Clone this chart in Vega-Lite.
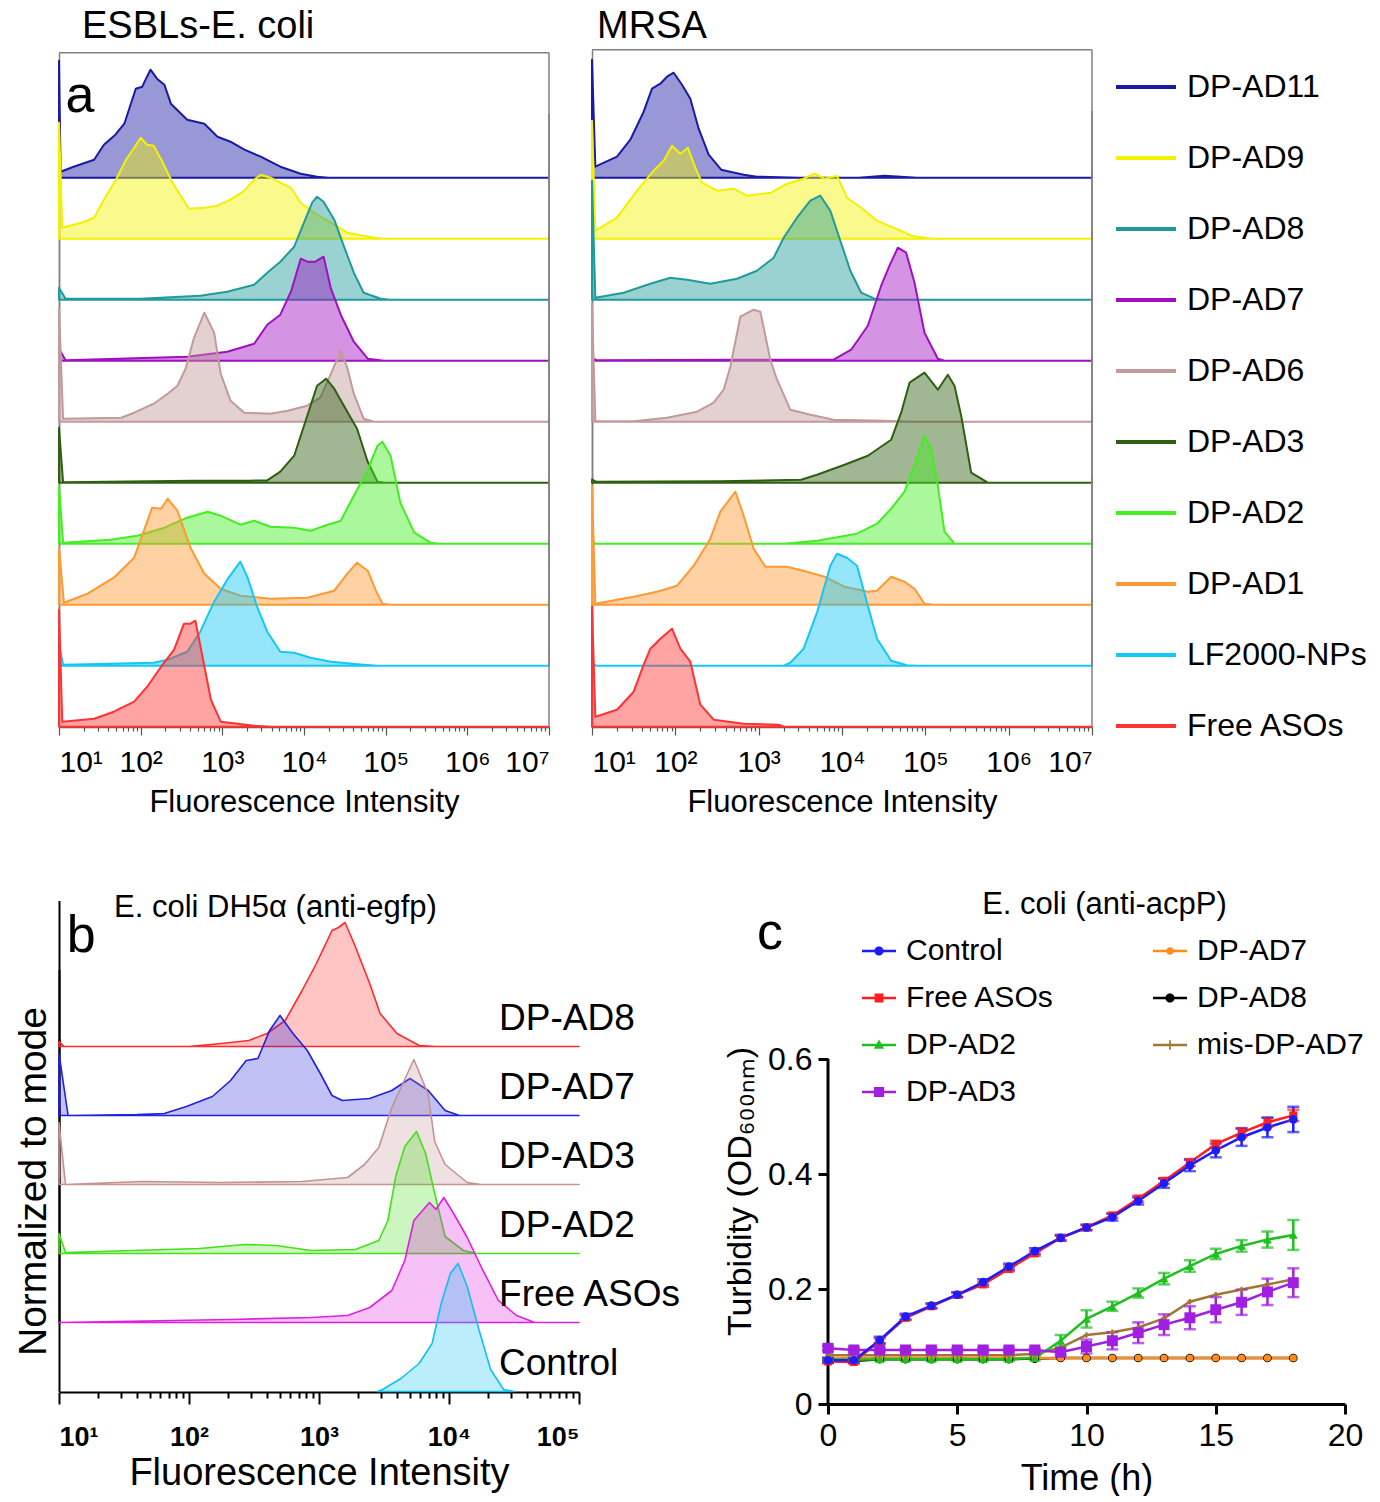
{
"$schema":"https://vega.github.io/schema/vega-lite/v6.json",
"background":"white",
"padding":{"left":14,"top":7,"right":0,"bottom":0},
"title":{"text":"Normalized to mode","orient":"left","anchor":"start","fontSize":39,"fontWeight":"normal","offset":4,"dx":140,"color":"black","font":"Liberation Sans"},
"config":{"font":"Liberation Sans","view":{"stroke":null},"axis":{"grid":false,"labelColor":"black","titleColor":"black","titleFontWeight":"normal","labelFont":"Liberation Sans","titleFont":"Liberation Sans"},"title":{"font":"Liberation Sans","fontWeight":"normal","color":"black"},"legend":{"labelFont":"Liberation Sans","labelColor":"black"}},
"datasets":{
"esbl":[
{"series":"DP-AD11","lx":1,"count":117},{"series":"DP-AD11","lx":1.02,"count":6},{"series":"DP-AD11","lx":1.18,"count":11},{"series":"DP-AD11","lx":1.43,"count":18},{"series":"DP-AD11","lx":1.55,"count":33},{"series":"DP-AD11","lx":1.69,"count":43},{"series":"DP-AD11","lx":1.8,"count":54},{"series":"DP-AD11","lx":1.94,"count":89},{"series":"DP-AD11","lx":2.02,"count":91},{"series":"DP-AD11","lx":2.06,"count":98},{"series":"DP-AD11","lx":2.12,"count":108},{"series":"DP-AD11","lx":2.2,"count":99},{"series":"DP-AD11","lx":2.29,"count":93},{"series":"DP-AD11","lx":2.37,"count":74},{"series":"DP-AD11","lx":2.47,"count":66},{"series":"DP-AD11","lx":2.57,"count":58},{"series":"DP-AD11","lx":2.78,"count":54},{"series":"DP-AD11","lx":2.94,"count":41},{"series":"DP-AD11","lx":3.1,"count":36},{"series":"DP-AD11","lx":3.27,"count":28},{"series":"DP-AD11","lx":3.47,"count":21},{"series":"DP-AD11","lx":3.71,"count":11},{"series":"DP-AD11","lx":3.96,"count":4},{"series":"DP-AD11","lx":4.16,"count":1},{"series":"DP-AD11","lx":4.3,"count":0},{"series":"DP-AD11","lx":7,"count":0},
{"series":"DP-AD9","lx":1,"count":116},{"series":"DP-AD9","lx":1.04,"count":11},{"series":"DP-AD9","lx":1.27,"count":16},{"series":"DP-AD9","lx":1.43,"count":21},{"series":"DP-AD9","lx":1.55,"count":39},{"series":"DP-AD9","lx":1.71,"count":61},{"series":"DP-AD9","lx":1.82,"count":79},{"series":"DP-AD9","lx":1.92,"count":91},{"series":"DP-AD9","lx":2.0,"count":101},{"series":"DP-AD9","lx":2.08,"count":94},{"series":"DP-AD9","lx":2.16,"count":93},{"series":"DP-AD9","lx":2.26,"count":78},{"series":"DP-AD9","lx":2.39,"count":56},{"series":"DP-AD9","lx":2.49,"count":43},{"series":"DP-AD9","lx":2.59,"count":30},{"series":"DP-AD9","lx":2.78,"count":31},{"series":"DP-AD9","lx":2.94,"count":33},{"series":"DP-AD9","lx":3.1,"count":39},{"series":"DP-AD9","lx":3.27,"count":48},{"series":"DP-AD9","lx":3.39,"count":59},{"series":"DP-AD9","lx":3.47,"count":64},{"series":"DP-AD9","lx":3.59,"count":61},{"series":"DP-AD9","lx":3.71,"count":56},{"series":"DP-AD9","lx":3.84,"count":51},{"series":"DP-AD9","lx":3.96,"count":36},{"series":"DP-AD9","lx":4.12,"count":26},{"series":"DP-AD9","lx":4.33,"count":16},{"series":"DP-AD9","lx":4.53,"count":6},{"series":"DP-AD9","lx":4.86,"count":1},{"series":"DP-AD9","lx":5.0,"count":0},{"series":"DP-AD9","lx":7,"count":0},
{"series":"DP-AD8","lx":1,"count":12},{"series":"DP-AD8","lx":1.08,"count":1},{"series":"DP-AD8","lx":2.0,"count":1},{"series":"DP-AD8","lx":2.73,"count":4},{"series":"DP-AD8","lx":3.06,"count":8},{"series":"DP-AD8","lx":3.39,"count":15},{"series":"DP-AD8","lx":3.55,"count":27},{"series":"DP-AD8","lx":3.71,"count":38},{"series":"DP-AD8","lx":3.88,"count":53},{"series":"DP-AD8","lx":4.0,"count":77},{"series":"DP-AD8","lx":4.1,"count":97},{"series":"DP-AD8","lx":4.16,"count":103},{"series":"DP-AD8","lx":4.24,"count":98},{"series":"DP-AD8","lx":4.37,"count":80},{"series":"DP-AD8","lx":4.49,"count":53},{"series":"DP-AD8","lx":4.61,"count":27},{"series":"DP-AD8","lx":4.73,"count":7},{"series":"DP-AD8","lx":4.94,"count":1},{"series":"DP-AD8","lx":5.05,"count":0},{"series":"DP-AD8","lx":7,"count":0},
{"series":"DP-AD7","lx":1,"count":12},{"series":"DP-AD7","lx":1.08,"count":0.5},{"series":"DP-AD7","lx":2.57,"count":4},{"series":"DP-AD7","lx":3.06,"count":9},{"series":"DP-AD7","lx":3.39,"count":17},{"series":"DP-AD7","lx":3.55,"count":36},{"series":"DP-AD7","lx":3.71,"count":46},{"series":"DP-AD7","lx":3.84,"count":69},{"series":"DP-AD7","lx":3.96,"count":102},{"series":"DP-AD7","lx":4.04,"count":99},{"series":"DP-AD7","lx":4.14,"count":99},{"series":"DP-AD7","lx":4.24,"count":104},{"series":"DP-AD7","lx":4.33,"count":72},{"series":"DP-AD7","lx":4.45,"count":46},{"series":"DP-AD7","lx":4.61,"count":19},{"series":"DP-AD7","lx":4.78,"count":2},{"series":"DP-AD7","lx":4.98,"count":0},{"series":"DP-AD7","lx":7,"count":0},
{"series":"DP-AD6","lx":1,"count":113},{"series":"DP-AD6","lx":1.05,"count":3},{"series":"DP-AD6","lx":1.76,"count":4},{"series":"DP-AD6","lx":1.92,"count":9},{"series":"DP-AD6","lx":2.16,"count":18},{"series":"DP-AD6","lx":2.33,"count":28},{"series":"DP-AD6","lx":2.45,"count":36},{"series":"DP-AD6","lx":2.55,"count":53},{"series":"DP-AD6","lx":2.65,"count":83},{"series":"DP-AD6","lx":2.78,"count":109},{"series":"DP-AD6","lx":2.9,"count":89},{"series":"DP-AD6","lx":2.98,"count":48},{"series":"DP-AD6","lx":3.1,"count":21},{"series":"DP-AD6","lx":3.27,"count":9},{"series":"DP-AD6","lx":3.59,"count":8},{"series":"DP-AD6","lx":3.8,"count":11},{"series":"DP-AD6","lx":4.04,"count":16},{"series":"DP-AD6","lx":4.2,"count":24},{"series":"DP-AD6","lx":4.33,"count":48},{"series":"DP-AD6","lx":4.45,"count":71},{"series":"DP-AD6","lx":4.53,"count":54},{"series":"DP-AD6","lx":4.61,"count":28},{"series":"DP-AD6","lx":4.73,"count":3},{"series":"DP-AD6","lx":4.86,"count":0},{"series":"DP-AD6","lx":7,"count":0},
{"series":"DP-AD3","lx":1,"count":55},{"series":"DP-AD3","lx":1.05,"count":0.5},{"series":"DP-AD3","lx":2.65,"count":2},{"series":"DP-AD3","lx":3.33,"count":2},{"series":"DP-AD3","lx":3.55,"count":2.3},{"series":"DP-AD3","lx":3.71,"count":11},{"series":"DP-AD3","lx":3.88,"count":27},{"series":"DP-AD3","lx":4.04,"count":67},{"series":"DP-AD3","lx":4.16,"count":97},{"series":"DP-AD3","lx":4.27,"count":104},{"series":"DP-AD3","lx":4.37,"count":94},{"series":"DP-AD3","lx":4.53,"count":71},{"series":"DP-AD3","lx":4.65,"count":54},{"series":"DP-AD3","lx":4.78,"count":21},{"series":"DP-AD3","lx":4.9,"count":1},{"series":"DP-AD3","lx":5.0,"count":0},{"series":"DP-AD3","lx":7,"count":0},
{"series":"DP-AD2","lx":1,"count":58},{"series":"DP-AD2","lx":1.05,"count":1},{"series":"DP-AD2","lx":1.63,"count":4},{"series":"DP-AD2","lx":1.96,"count":8},{"series":"DP-AD2","lx":2.29,"count":16},{"series":"DP-AD2","lx":2.57,"count":26},{"series":"DP-AD2","lx":2.82,"count":32},{"series":"DP-AD2","lx":2.98,"count":28},{"series":"DP-AD2","lx":3.22,"count":19},{"series":"DP-AD2","lx":3.39,"count":23},{"series":"DP-AD2","lx":3.59,"count":17},{"series":"DP-AD2","lx":3.88,"count":16},{"series":"DP-AD2","lx":4.08,"count":13},{"series":"DP-AD2","lx":4.29,"count":19},{"series":"DP-AD2","lx":4.45,"count":23},{"series":"DP-AD2","lx":4.61,"count":48},{"series":"DP-AD2","lx":4.78,"count":74},{"series":"DP-AD2","lx":4.9,"count":98},{"series":"DP-AD2","lx":4.96,"count":102},{"series":"DP-AD2","lx":5.06,"count":88},{"series":"DP-AD2","lx":5.18,"count":41},{"series":"DP-AD2","lx":5.35,"count":11},{"series":"DP-AD2","lx":5.55,"count":1},{"series":"DP-AD2","lx":5.65,"count":0},{"series":"DP-AD2","lx":7,"count":0},
{"series":"DP-AD1","lx":1,"count":57},{"series":"DP-AD1","lx":1.06,"count":2},{"series":"DP-AD1","lx":1.35,"count":11},{"series":"DP-AD1","lx":1.67,"count":27},{"series":"DP-AD1","lx":1.92,"count":47},{"series":"DP-AD1","lx":2.04,"count":74},{"series":"DP-AD1","lx":2.14,"count":97},{"series":"DP-AD1","lx":2.25,"count":96},{"series":"DP-AD1","lx":2.33,"count":106},{"series":"DP-AD1","lx":2.45,"count":94},{"series":"DP-AD1","lx":2.61,"count":57},{"series":"DP-AD1","lx":2.78,"count":31},{"series":"DP-AD1","lx":2.98,"count":16},{"series":"DP-AD1","lx":3.22,"count":9},{"series":"DP-AD1","lx":3.59,"count":6},{"series":"DP-AD1","lx":4.04,"count":7},{"series":"DP-AD1","lx":4.37,"count":14},{"series":"DP-AD1","lx":4.53,"count":31},{"series":"DP-AD1","lx":4.65,"count":42},{"series":"DP-AD1","lx":4.78,"count":34},{"series":"DP-AD1","lx":4.88,"count":14},{"series":"DP-AD1","lx":4.96,"count":1},{"series":"DP-AD1","lx":5.05,"count":0},{"series":"DP-AD1","lx":7,"count":0},
{"series":"LF2000-NPs","lx":1,"count":20},{"series":"LF2000-NPs","lx":1.05,"count":1},{"series":"LF2000-NPs","lx":2.16,"count":3},{"series":"LF2000-NPs","lx":2.33,"count":6},{"series":"LF2000-NPs","lx":2.57,"count":14},{"series":"LF2000-NPs","lx":2.73,"count":34},{"series":"LF2000-NPs","lx":2.9,"count":64},{"series":"LF2000-NPs","lx":3.06,"count":86},{"series":"LF2000-NPs","lx":3.22,"count":104},{"series":"LF2000-NPs","lx":3.31,"count":88},{"series":"LF2000-NPs","lx":3.43,"count":58},{"series":"LF2000-NPs","lx":3.55,"count":34},{"series":"LF2000-NPs","lx":3.71,"count":14},{"series":"LF2000-NPs","lx":3.88,"count":13},{"series":"LF2000-NPs","lx":4.08,"count":8},{"series":"LF2000-NPs","lx":4.33,"count":4},{"series":"LF2000-NPs","lx":4.73,"count":1},{"series":"LF2000-NPs","lx":4.9,"count":0},{"series":"LF2000-NPs","lx":7,"count":0},
{"series":"Free ASOs","lx":1,"count":117},{"series":"Free ASOs","lx":1.04,"count":5},{"series":"Free ASOs","lx":1.43,"count":8},{"series":"Free ASOs","lx":1.67,"count":15},{"series":"Free ASOs","lx":1.92,"count":25},{"series":"Free ASOs","lx":2.08,"count":40},{"series":"Free ASOs","lx":2.25,"count":60},{"series":"Free ASOs","lx":2.41,"count":77},{"series":"Free ASOs","lx":2.53,"count":103},{"series":"Free ASOs","lx":2.61,"count":103},{"series":"Free ASOs","lx":2.67,"count":106},{"series":"Free ASOs","lx":2.75,"count":73},{"series":"Free ASOs","lx":2.86,"count":27},{"series":"Free ASOs","lx":2.98,"count":5},{"series":"Free ASOs","lx":3.39,"count":1},{"series":"Free ASOs","lx":3.6,"count":0},{"series":"Free ASOs","lx":7,"count":0}
],
"mrsa":[
{"series":"DP-AD11","lx":1,"count":118},{"series":"DP-AD11","lx":1.04,"count":11},{"series":"DP-AD11","lx":1.3,"count":21},{"series":"DP-AD11","lx":1.46,"count":38},{"series":"DP-AD11","lx":1.62,"count":66},{"series":"DP-AD11","lx":1.72,"count":89},{"series":"DP-AD11","lx":1.82,"count":94},{"series":"DP-AD11","lx":1.9,"count":101},{"series":"DP-AD11","lx":1.98,"count":105},{"series":"DP-AD11","lx":2.08,"count":93},{"series":"DP-AD11","lx":2.18,"count":79},{"series":"DP-AD11","lx":2.28,"count":49},{"series":"DP-AD11","lx":2.4,"count":23},{"series":"DP-AD11","lx":2.55,"count":8},{"series":"DP-AD11","lx":2.82,"count":3},{"series":"DP-AD11","lx":2.98,"count":1},{"series":"DP-AD11","lx":3.48,"count":0},{"series":"DP-AD11","lx":4.2,"count":0},{"series":"DP-AD11","lx":4.51,"count":2},{"series":"DP-AD11","lx":4.9,"count":0},{"series":"DP-AD11","lx":7,"count":0},
{"series":"DP-AD9","lx":1,"count":118},{"series":"DP-AD9","lx":1.04,"count":8},{"series":"DP-AD9","lx":1.3,"count":21},{"series":"DP-AD9","lx":1.54,"count":48},{"series":"DP-AD9","lx":1.74,"count":68},{"series":"DP-AD9","lx":1.86,"count":78},{"series":"DP-AD9","lx":1.96,"count":93},{"series":"DP-AD9","lx":2.06,"count":85},{"series":"DP-AD9","lx":2.15,"count":91},{"series":"DP-AD9","lx":2.24,"count":71},{"series":"DP-AD9","lx":2.32,"count":56},{"series":"DP-AD9","lx":2.5,"count":48},{"series":"DP-AD9","lx":2.7,"count":50},{"series":"DP-AD9","lx":2.86,"count":43},{"series":"DP-AD9","lx":3.15,"count":46},{"series":"DP-AD9","lx":3.34,"count":55},{"series":"DP-AD9","lx":3.54,"count":60},{"series":"DP-AD9","lx":3.67,"count":65},{"series":"DP-AD9","lx":3.79,"count":60},{"series":"DP-AD9","lx":3.94,"count":63},{"series":"DP-AD9","lx":4.06,"count":41},{"series":"DP-AD9","lx":4.23,"count":31},{"series":"DP-AD9","lx":4.42,"count":18},{"series":"DP-AD9","lx":4.62,"count":11},{"series":"DP-AD9","lx":4.83,"count":3},{"series":"DP-AD9","lx":5.07,"count":0},{"series":"DP-AD9","lx":7,"count":0},
{"series":"DP-AD8","lx":1,"count":119},{"series":"DP-AD8","lx":1.04,"count":2},{"series":"DP-AD8","lx":1.38,"count":7},{"series":"DP-AD8","lx":1.7,"count":16},{"series":"DP-AD8","lx":1.94,"count":22},{"series":"DP-AD8","lx":2.14,"count":20},{"series":"DP-AD8","lx":2.42,"count":16},{"series":"DP-AD8","lx":2.74,"count":21},{"series":"DP-AD8","lx":2.98,"count":29},{"series":"DP-AD8","lx":3.18,"count":42},{"series":"DP-AD8","lx":3.3,"count":62},{"series":"DP-AD8","lx":3.46,"count":82},{"series":"DP-AD8","lx":3.62,"count":99},{"series":"DP-AD8","lx":3.74,"count":104},{"series":"DP-AD8","lx":3.86,"count":89},{"series":"DP-AD8","lx":3.98,"count":59},{"series":"DP-AD8","lx":4.1,"count":29},{"series":"DP-AD8","lx":4.23,"count":7},{"series":"DP-AD8","lx":4.39,"count":1},{"series":"DP-AD8","lx":4.5,"count":0},{"series":"DP-AD8","lx":7,"count":0},
{"series":"DP-AD7","lx":1,"count":3},{"series":"DP-AD7","lx":1.05,"count":0.5},{"series":"DP-AD7","lx":2.8,"count":1},{"series":"DP-AD7","lx":3.9,"count":1},{"series":"DP-AD7","lx":4.11,"count":11},{"series":"DP-AD7","lx":4.31,"count":35},{"series":"DP-AD7","lx":4.47,"count":75},{"series":"DP-AD7","lx":4.57,"count":95},{"series":"DP-AD7","lx":4.67,"count":113},{"series":"DP-AD7","lx":4.77,"count":108},{"series":"DP-AD7","lx":4.87,"count":78},{"series":"DP-AD7","lx":4.99,"count":28},{"series":"DP-AD7","lx":5.15,"count":2},{"series":"DP-AD7","lx":5.23,"count":0},{"series":"DP-AD7","lx":7,"count":0},
{"series":"DP-AD6","lx":1,"count":118},{"series":"DP-AD6","lx":1.04,"count":0.5},{"series":"DP-AD6","lx":1.5,"count":0.5},{"series":"DP-AD6","lx":1.9,"count":4},{"series":"DP-AD6","lx":2.26,"count":10},{"series":"DP-AD6","lx":2.46,"count":19},{"series":"DP-AD6","lx":2.58,"count":32},{"series":"DP-AD6","lx":2.66,"count":55},{"series":"DP-AD6","lx":2.78,"count":105},{"series":"DP-AD6","lx":2.94,"count":112},{"series":"DP-AD6","lx":3.02,"count":110},{"series":"DP-AD6","lx":3.14,"count":62},{"series":"DP-AD6","lx":3.22,"count":42},{"series":"DP-AD6","lx":3.38,"count":12},{"series":"DP-AD6","lx":3.62,"count":7},{"series":"DP-AD6","lx":3.9,"count":2},{"series":"DP-AD6","lx":4.51,"count":1},{"series":"DP-AD6","lx":4.8,"count":0},{"series":"DP-AD6","lx":7,"count":0},
{"series":"DP-AD3","lx":1,"count":3},{"series":"DP-AD3","lx":1.05,"count":1},{"series":"DP-AD3","lx":2.52,"count":1.5},{"series":"DP-AD3","lx":3.51,"count":3},{"series":"DP-AD3","lx":3.7,"count":8},{"series":"DP-AD3","lx":4.03,"count":18},{"series":"DP-AD3","lx":4.31,"count":27},{"series":"DP-AD3","lx":4.59,"count":43},{"series":"DP-AD3","lx":4.71,"count":70},{"series":"DP-AD3","lx":4.81,"count":100},{"series":"DP-AD3","lx":4.99,"count":110},{"series":"DP-AD3","lx":5.15,"count":93},{"series":"DP-AD3","lx":5.27,"count":108},{"series":"DP-AD3","lx":5.35,"count":97},{"series":"DP-AD3","lx":5.43,"count":67},{"series":"DP-AD3","lx":5.55,"count":10},{"series":"DP-AD3","lx":5.75,"count":0},{"series":"DP-AD3","lx":7,"count":0},
{"series":"DP-AD2","lx":1,"count":5},{"series":"DP-AD2","lx":1.04,"count":0},{"series":"DP-AD2","lx":3.3,"count":0},{"series":"DP-AD2","lx":3.7,"count":3},{"series":"DP-AD2","lx":4.18,"count":10},{"series":"DP-AD2","lx":4.42,"count":20},{"series":"DP-AD2","lx":4.59,"count":35},{"series":"DP-AD2","lx":4.75,"count":52},{"series":"DP-AD2","lx":4.87,"count":78},{"series":"DP-AD2","lx":4.99,"count":108},{"series":"DP-AD2","lx":5.07,"count":95},{"series":"DP-AD2","lx":5.15,"count":58},{"series":"DP-AD2","lx":5.23,"count":12},{"series":"DP-AD2","lx":5.35,"count":0},{"series":"DP-AD2","lx":7,"count":0},
{"series":"DP-AD1","lx":1,"count":119},{"series":"DP-AD1","lx":1.04,"count":1},{"series":"DP-AD1","lx":1.5,"count":8},{"series":"DP-AD1","lx":1.78,"count":13},{"series":"DP-AD1","lx":2.02,"count":19},{"series":"DP-AD1","lx":2.22,"count":39},{"series":"DP-AD1","lx":2.42,"count":66},{"series":"DP-AD1","lx":2.54,"count":93},{"series":"DP-AD1","lx":2.72,"count":113},{"series":"DP-AD1","lx":2.82,"count":89},{"series":"DP-AD1","lx":2.94,"count":56},{"series":"DP-AD1","lx":3.08,"count":38},{"series":"DP-AD1","lx":3.34,"count":38},{"series":"DP-AD1","lx":3.58,"count":33},{"series":"DP-AD1","lx":3.79,"count":28},{"series":"DP-AD1","lx":4.03,"count":18},{"series":"DP-AD1","lx":4.31,"count":13},{"series":"DP-AD1","lx":4.42,"count":14},{"series":"DP-AD1","lx":4.59,"count":28},{"series":"DP-AD1","lx":4.75,"count":23},{"series":"DP-AD1","lx":4.87,"count":16},{"series":"DP-AD1","lx":4.99,"count":1},{"series":"DP-AD1","lx":5.1,"count":0},{"series":"DP-AD1","lx":7,"count":0},
{"series":"LF2000-NPs","lx":1,"count":3},{"series":"LF2000-NPs","lx":1.05,"count":0},{"series":"LF2000-NPs","lx":3.3,"count":0},{"series":"LF2000-NPs","lx":3.38,"count":3},{"series":"LF2000-NPs","lx":3.54,"count":17},{"series":"LF2000-NPs","lx":3.7,"count":53},{"series":"LF2000-NPs","lx":3.86,"count":100},{"series":"LF2000-NPs","lx":3.94,"count":112},{"series":"LF2000-NPs","lx":4.06,"count":108},{"series":"LF2000-NPs","lx":4.18,"count":100},{"series":"LF2000-NPs","lx":4.31,"count":60},{"series":"LF2000-NPs","lx":4.42,"count":27},{"series":"LF2000-NPs","lx":4.59,"count":5},{"series":"LF2000-NPs","lx":4.78,"count":0.5},{"series":"LF2000-NPs","lx":4.9,"count":0},{"series":"LF2000-NPs","lx":7,"count":0},
{"series":"Free ASOs","lx":1,"count":120},{"series":"Free ASOs","lx":1.04,"count":10},{"series":"Free ASOs","lx":1.3,"count":17},{"series":"Free ASOs","lx":1.5,"count":35},{"series":"Free ASOs","lx":1.62,"count":62},{"series":"Free ASOs","lx":1.7,"count":78},{"series":"Free ASOs","lx":1.82,"count":88},{"series":"Free ASOs","lx":1.96,"count":98},{"series":"Free ASOs","lx":2.06,"count":78},{"series":"Free ASOs","lx":2.18,"count":65},{"series":"Free ASOs","lx":2.3,"count":22},{"series":"Free ASOs","lx":2.46,"count":7},{"series":"Free ASOs","lx":2.82,"count":3},{"series":"Free ASOs","lx":3.24,"count":2},{"series":"Free ASOs","lx":3.3,"count":0},{"series":"Free ASOs","lx":7,"count":0}
],
"flowb":[
{"series":"DP-AD8","lx":1,"count":5},{"series":"DP-AD8","lx":1.04,"count":0},{"series":"DP-AD8","lx":2.0,"count":0},{"series":"DP-AD8","lx":2.25,"count":3},{"series":"DP-AD8","lx":2.46,"count":6},{"series":"DP-AD8","lx":2.6,"count":13},{"series":"DP-AD8","lx":2.74,"count":26},{"series":"DP-AD8","lx":2.87,"count":56},{"series":"DP-AD8","lx":2.98,"count":83},{"series":"DP-AD8","lx":3.1,"count":116},{"series":"DP-AD8","lx":3.15,"count":119},{"series":"DP-AD8","lx":3.2,"count":124},{"series":"DP-AD8","lx":3.27,"count":103},{"series":"DP-AD8","lx":3.39,"count":63},{"series":"DP-AD8","lx":3.47,"count":33},{"series":"DP-AD8","lx":3.6,"count":13},{"series":"DP-AD8","lx":3.77,"count":1},{"series":"DP-AD8","lx":3.9,"count":0},{"series":"DP-AD8","lx":5,"count":0},
{"series":"DP-AD7","lx":1,"count":62},{"series":"DP-AD7","lx":1.07,"count":0},{"series":"DP-AD7","lx":1.6,"count":1},{"series":"DP-AD7","lx":1.81,"count":2},{"series":"DP-AD7","lx":1.98,"count":9},{"series":"DP-AD7","lx":2.18,"count":19},{"series":"DP-AD7","lx":2.32,"count":35},{"series":"DP-AD7","lx":2.44,"count":55},{"series":"DP-AD7","lx":2.53,"count":57},{"series":"DP-AD7","lx":2.62,"count":85},{"series":"DP-AD7","lx":2.7,"count":100},{"series":"DP-AD7","lx":2.8,"count":82},{"series":"DP-AD7","lx":2.91,"count":65},{"series":"DP-AD7","lx":3.01,"count":42},{"series":"DP-AD7","lx":3.1,"count":20},{"series":"DP-AD7","lx":3.18,"count":15},{"series":"DP-AD7","lx":3.39,"count":17},{"series":"DP-AD7","lx":3.56,"count":25},{"series":"DP-AD7","lx":3.7,"count":37},{"series":"DP-AD7","lx":3.84,"count":25},{"series":"DP-AD7","lx":3.97,"count":5},{"series":"DP-AD7","lx":4.08,"count":0},{"series":"DP-AD7","lx":5,"count":0},
{"series":"DP-AD3","lx":1,"count":62},{"series":"DP-AD3","lx":1.05,"count":0},{"series":"DP-AD3","lx":1.64,"count":3},{"series":"DP-AD3","lx":2.25,"count":2},{"series":"DP-AD3","lx":2.87,"count":3},{"series":"DP-AD3","lx":3.22,"count":7},{"series":"DP-AD3","lx":3.35,"count":20},{"series":"DP-AD3","lx":3.46,"count":37},{"series":"DP-AD3","lx":3.56,"count":77},{"series":"DP-AD3","lx":3.73,"count":125},{"series":"DP-AD3","lx":3.84,"count":90},{"series":"DP-AD3","lx":3.89,"count":43},{"series":"DP-AD3","lx":3.97,"count":20},{"series":"DP-AD3","lx":4.14,"count":2},{"series":"DP-AD3","lx":4.25,"count":0},{"series":"DP-AD3","lx":5,"count":0},
{"series":"DP-AD2","lx":1,"count":20},{"series":"DP-AD2","lx":1.05,"count":1},{"series":"DP-AD2","lx":1.57,"count":3},{"series":"DP-AD2","lx":2.08,"count":5},{"series":"DP-AD2","lx":2.43,"count":9},{"series":"DP-AD2","lx":2.67,"count":8},{"series":"DP-AD2","lx":2.94,"count":3},{"series":"DP-AD2","lx":3.28,"count":4},{"series":"DP-AD2","lx":3.46,"count":13},{"series":"DP-AD2","lx":3.53,"count":33},{"series":"DP-AD2","lx":3.59,"count":77},{"series":"DP-AD2","lx":3.66,"count":107},{"series":"DP-AD2","lx":3.75,"count":122},{"series":"DP-AD2","lx":3.82,"count":100},{"series":"DP-AD2","lx":3.89,"count":60},{"series":"DP-AD2","lx":3.97,"count":17},{"series":"DP-AD2","lx":4.11,"count":3},{"series":"DP-AD2","lx":4.21,"count":0},{"series":"DP-AD2","lx":5,"count":0},
{"series":"Free ASOs","lx":1,"count":0},{"series":"Free ASOs","lx":2.32,"count":3},{"series":"Free ASOs","lx":2.94,"count":5},{"series":"Free ASOs","lx":3.22,"count":7},{"series":"Free ASOs","lx":3.39,"count":15},{"series":"Free ASOs","lx":3.56,"count":32},{"series":"Free ASOs","lx":3.66,"count":62},{"series":"Free ASOs","lx":3.73,"count":102},{"series":"Free ASOs","lx":3.85,"count":120},{"series":"Free ASOs","lx":3.9,"count":113},{"series":"Free ASOs","lx":3.96,"count":125},{"series":"Free ASOs","lx":4.04,"count":108},{"series":"Free ASOs","lx":4.14,"count":85},{"series":"Free ASOs","lx":4.25,"count":55},{"series":"Free ASOs","lx":4.38,"count":22},{"series":"Free ASOs","lx":4.52,"count":7},{"series":"Free ASOs","lx":4.66,"count":0},{"series":"Free ASOs","lx":5,"count":0},
{"series":"Control","lx":3.45,"count":0},{"series":"Control","lx":3.49,"count":2},{"series":"Control","lx":3.63,"count":13},{"series":"Control","lx":3.77,"count":28},{"series":"Control","lx":3.87,"count":48},{"series":"Control","lx":3.94,"count":88},{"series":"Control","lx":4.01,"count":118},{"series":"Control","lx":4.07,"count":128},{"series":"Control","lx":4.14,"count":105},{"series":"Control","lx":4.23,"count":62},{"series":"Control","lx":4.32,"count":22},{"series":"Control","lx":4.42,"count":2},{"series":"Control","lx":4.5,"count":0}
],
"growth":[
{"series":"DP-AD8","time":0,"od":0.076,"lo":0.076,"hi":0.076},{"series":"DP-AD8","time":1,"od":0.075,"lo":0.075,"hi":0.075},{"series":"DP-AD8","time":2,"od":0.078,"lo":0.078,"hi":0.078},{"series":"DP-AD8","time":3,"od":0.078,"lo":0.078,"hi":0.078},{"series":"DP-AD8","time":4,"od":0.078,"lo":0.078,"hi":0.078},{"series":"DP-AD8","time":5,"od":0.078,"lo":0.078,"hi":0.078},{"series":"DP-AD8","time":6,"od":0.078,"lo":0.078,"hi":0.078},{"series":"DP-AD8","time":7,"od":0.078,"lo":0.078,"hi":0.078},{"series":"DP-AD8","time":8,"od":0.079,"lo":0.079,"hi":0.079},{"series":"DP-AD8","time":9,"od":0.08,"lo":0.08,"hi":0.08},{"series":"DP-AD8","time":10,"od":0.08,"lo":0.08,"hi":0.08},{"series":"DP-AD8","time":11,"od":0.08,"lo":0.08,"hi":0.08},{"series":"DP-AD8","time":12,"od":0.08,"lo":0.08,"hi":0.08},{"series":"DP-AD8","time":13,"od":0.08,"lo":0.08,"hi":0.08},{"series":"DP-AD8","time":14,"od":0.08,"lo":0.08,"hi":0.08},{"series":"DP-AD8","time":15,"od":0.08,"lo":0.08,"hi":0.08},{"series":"DP-AD8","time":16,"od":0.08,"lo":0.08,"hi":0.08},{"series":"DP-AD8","time":17,"od":0.08,"lo":0.08,"hi":0.08},{"series":"DP-AD8","time":18,"od":0.08,"lo":0.08,"hi":0.08},
{"series":"DP-AD7","time":0,"od":0.079,"lo":0.079,"hi":0.079},{"series":"DP-AD7","time":1,"od":0.08,"lo":0.08,"hi":0.08},{"series":"DP-AD7","time":2,"od":0.08,"lo":0.08,"hi":0.08},{"series":"DP-AD7","time":3,"od":0.08,"lo":0.08,"hi":0.08},{"series":"DP-AD7","time":4,"od":0.08,"lo":0.08,"hi":0.08},{"series":"DP-AD7","time":5,"od":0.08,"lo":0.08,"hi":0.08},{"series":"DP-AD7","time":6,"od":0.08,"lo":0.08,"hi":0.08},{"series":"DP-AD7","time":7,"od":0.08,"lo":0.08,"hi":0.08},{"series":"DP-AD7","time":8,"od":0.08,"lo":0.08,"hi":0.08},{"series":"DP-AD7","time":9,"od":0.08,"lo":0.08,"hi":0.08},{"series":"DP-AD7","time":10,"od":0.08,"lo":0.08,"hi":0.08},{"series":"DP-AD7","time":11,"od":0.08,"lo":0.08,"hi":0.08},{"series":"DP-AD7","time":12,"od":0.08,"lo":0.08,"hi":0.08},{"series":"DP-AD7","time":13,"od":0.08,"lo":0.08,"hi":0.08},{"series":"DP-AD7","time":14,"od":0.08,"lo":0.08,"hi":0.08},{"series":"DP-AD7","time":15,"od":0.08,"lo":0.08,"hi":0.08},{"series":"DP-AD7","time":16,"od":0.08,"lo":0.08,"hi":0.08},{"series":"DP-AD7","time":17,"od":0.08,"lo":0.08,"hi":0.08},{"series":"DP-AD7","time":18,"od":0.08,"lo":0.08,"hi":0.08},
{"series":"mis-DP-AD7","time":0,"od":0.085,"lo":0.085,"hi":0.085},{"series":"mis-DP-AD7","time":1,"od":0.085,"lo":0.085,"hi":0.085},{"series":"mis-DP-AD7","time":2,"od":0.085,"lo":0.085,"hi":0.085},{"series":"mis-DP-AD7","time":3,"od":0.085,"lo":0.085,"hi":0.085},{"series":"mis-DP-AD7","time":4,"od":0.085,"lo":0.085,"hi":0.085},{"series":"mis-DP-AD7","time":5,"od":0.085,"lo":0.085,"hi":0.085},{"series":"mis-DP-AD7","time":6,"od":0.085,"lo":0.085,"hi":0.085},{"series":"mis-DP-AD7","time":7,"od":0.085,"lo":0.085,"hi":0.085},{"series":"mis-DP-AD7","time":8,"od":0.087,"lo":0.087,"hi":0.087},{"series":"mis-DP-AD7","time":9,"od":0.098,"lo":0.098,"hi":0.098},{"series":"mis-DP-AD7","time":10,"od":0.12,"lo":0.12,"hi":0.12},{"series":"mis-DP-AD7","time":11,"od":0.125,"lo":0.125,"hi":0.125},{"series":"mis-DP-AD7","time":12,"od":0.133,"lo":0.133,"hi":0.133},{"series":"mis-DP-AD7","time":13,"od":0.149,"lo":0.149,"hi":0.149},{"series":"mis-DP-AD7","time":14,"od":0.178,"lo":0.178,"hi":0.178},{"series":"mis-DP-AD7","time":15,"od":0.19,"lo":0.19,"hi":0.19},{"series":"mis-DP-AD7","time":16,"od":0.199,"lo":0.199,"hi":0.199},{"series":"mis-DP-AD7","time":17,"od":0.208,"lo":0.208,"hi":0.208},{"series":"mis-DP-AD7","time":18,"od":0.217,"lo":0.217,"hi":0.217},
{"series":"DP-AD2","time":0,"od":0.078,"lo":0.075,"hi":0.081},{"series":"DP-AD2","time":1,"od":0.077,"lo":0.074,"hi":0.08},{"series":"DP-AD2","time":2,"od":0.078,"lo":0.075,"hi":0.081},{"series":"DP-AD2","time":3,"od":0.078,"lo":0.075,"hi":0.081},{"series":"DP-AD2","time":4,"od":0.078,"lo":0.075,"hi":0.081},{"series":"DP-AD2","time":5,"od":0.078,"lo":0.075,"hi":0.081},{"series":"DP-AD2","time":6,"od":0.078,"lo":0.075,"hi":0.081},{"series":"DP-AD2","time":7,"od":0.078,"lo":0.075,"hi":0.081},{"series":"DP-AD2","time":8,"od":0.08,"lo":0.076,"hi":0.084},{"series":"DP-AD2","time":9,"od":0.11,"lo":0.1,"hi":0.12},{"series":"DP-AD2","time":10,"od":0.148,"lo":0.133,"hi":0.163},{"series":"DP-AD2","time":11,"od":0.17,"lo":0.162,"hi":0.178},{"series":"DP-AD2","time":12,"od":0.193,"lo":0.185,"hi":0.201},{"series":"DP-AD2","time":13,"od":0.218,"lo":0.208,"hi":0.228},{"series":"DP-AD2","time":14,"od":0.24,"lo":0.23,"hi":0.25},{"series":"DP-AD2","time":15,"od":0.261,"lo":0.252,"hi":0.27},{"series":"DP-AD2","time":16,"od":0.275,"lo":0.265,"hi":0.285},{"series":"DP-AD2","time":17,"od":0.286,"lo":0.272,"hi":0.3},{"series":"DP-AD2","time":18,"od":0.294,"lo":0.268,"hi":0.32},
{"series":"DP-AD3","time":0,"od":0.097,"lo":0.093,"hi":0.101},{"series":"DP-AD3","time":1,"od":0.094,"lo":0.09,"hi":0.098},{"series":"DP-AD3","time":2,"od":0.094,"lo":0.091,"hi":0.097},{"series":"DP-AD3","time":3,"od":0.094,"lo":0.091,"hi":0.097},{"series":"DP-AD3","time":4,"od":0.094,"lo":0.091,"hi":0.097},{"series":"DP-AD3","time":5,"od":0.094,"lo":0.091,"hi":0.097},{"series":"DP-AD3","time":6,"od":0.094,"lo":0.091,"hi":0.097},{"series":"DP-AD3","time":7,"od":0.094,"lo":0.091,"hi":0.097},{"series":"DP-AD3","time":8,"od":0.094,"lo":0.091,"hi":0.097},{"series":"DP-AD3","time":9,"od":0.09,"lo":0.086,"hi":0.094},{"series":"DP-AD3","time":10,"od":0.1,"lo":0.088,"hi":0.112},{"series":"DP-AD3","time":11,"od":0.11,"lo":0.095,"hi":0.125},{"series":"DP-AD3","time":12,"od":0.124,"lo":0.106,"hi":0.142},{"series":"DP-AD3","time":13,"od":0.138,"lo":0.12,"hi":0.156},{"series":"DP-AD3","time":14,"od":0.15,"lo":0.13,"hi":0.17},{"series":"DP-AD3","time":15,"od":0.164,"lo":0.142,"hi":0.186},{"series":"DP-AD3","time":16,"od":0.177,"lo":0.155,"hi":0.199},{"series":"DP-AD3","time":17,"od":0.195,"lo":0.172,"hi":0.218},{"series":"DP-AD3","time":18,"od":0.211,"lo":0.186,"hi":0.236},
{"series":"Free ASOs","time":0,"od":0.074,"lo":0.071,"hi":0.077},{"series":"Free ASOs","time":1,"od":0.073,"lo":0.07,"hi":0.076},{"series":"Free ASOs","time":2,"od":0.11,"lo":0.106,"hi":0.114},{"series":"Free ASOs","time":3,"od":0.15,"lo":0.146,"hi":0.154},{"series":"Free ASOs","time":4,"od":0.17,"lo":0.166,"hi":0.174},{"series":"Free ASOs","time":5,"od":0.19,"lo":0.186,"hi":0.194},{"series":"Free ASOs","time":6,"od":0.208,"lo":0.204,"hi":0.212},{"series":"Free ASOs","time":7,"od":0.235,"lo":0.231,"hi":0.239},{"series":"Free ASOs","time":8,"od":0.262,"lo":0.258,"hi":0.266},{"series":"Free ASOs","time":9,"od":0.289,"lo":0.285,"hi":0.293},{"series":"Free ASOs","time":10,"od":0.307,"lo":0.303,"hi":0.311},{"series":"Free ASOs","time":11,"od":0.328,"lo":0.324,"hi":0.332},{"series":"Free ASOs","time":12,"od":0.357,"lo":0.352,"hi":0.362},{"series":"Free ASOs","time":13,"od":0.388,"lo":0.383,"hi":0.393},{"series":"Free ASOs","time":14,"od":0.42,"lo":0.414,"hi":0.426},{"series":"Free ASOs","time":15,"od":0.452,"lo":0.446,"hi":0.458},{"series":"Free ASOs","time":16,"od":0.472,"lo":0.464,"hi":0.48},{"series":"Free ASOs","time":17,"od":0.49,"lo":0.482,"hi":0.498},{"series":"Free ASOs","time":18,"od":0.502,"lo":0.492,"hi":0.512},
{"series":"Control","time":0,"od":0.076,"lo":0.072,"hi":0.08},{"series":"Control","time":1,"od":0.076,"lo":0.072,"hi":0.08},{"series":"Control","time":2,"od":0.111,"lo":0.105,"hi":0.117},{"series":"Control","time":3,"od":0.152,"lo":0.147,"hi":0.157},{"series":"Control","time":4,"od":0.171,"lo":0.167,"hi":0.175},{"series":"Control","time":5,"od":0.19,"lo":0.186,"hi":0.194},{"series":"Control","time":6,"od":0.212,"lo":0.207,"hi":0.217},{"series":"Control","time":7,"od":0.239,"lo":0.234,"hi":0.244},{"series":"Control","time":8,"od":0.266,"lo":0.261,"hi":0.271},{"series":"Control","time":9,"od":0.289,"lo":0.284,"hi":0.294},{"series":"Control","time":10,"od":0.307,"lo":0.302,"hi":0.312},{"series":"Control","time":11,"od":0.325,"lo":0.319,"hi":0.331},{"series":"Control","time":12,"od":0.353,"lo":0.347,"hi":0.359},{"series":"Control","time":13,"od":0.384,"lo":0.376,"hi":0.392},{"series":"Control","time":14,"od":0.415,"lo":0.405,"hi":0.425},{"series":"Control","time":15,"od":0.441,"lo":0.429,"hi":0.453},{"series":"Control","time":16,"od":0.464,"lo":0.449,"hi":0.479},{"series":"Control","time":17,"od":0.481,"lo":0.464,"hi":0.498},{"series":"Control","time":18,"od":0.495,"lo":0.473,"hi":0.517}
]
},
"vconcat":[
{"hconcat":[
{"data":{"name":"esbl"},
 "title":{"text":"ESBLs-E. coli","fontSize":38,"frame":"group","offset":6,"dx":23},
 "facet":{"row":{"field":"series","type":"nominal","sort":["DP-AD11","DP-AD9","DP-AD8","DP-AD7","DP-AD6","DP-AD3","DP-AD2","DP-AD1","LF2000-NPs","Free ASOs"],"title":null,"header":{"labels":false,"title":null}}},
 "spacing":{"row":0},
 "bounds":"flush",
 "spec":{"width":490,"height":60.7,
  "resolve":{"axis":{"x":"independent"}},
  "layer":[
  {"mark":{"type":"area","fillOpacity":0.45,"strokeWidth":2,"strokeJoin":"round"},
   "encoding":{
    "x":{"field":"lx","type":"quantitative","scale":{"domain":[1,7],"nice":false,"zero":false},
      "axis":{"orient":"bottom","title":null,"labels":false,"values":[1,1.30103,1.47712,1.60206,1.69897,1.77815,1.8451,1.90309,1.95424,2,2.30103,2.47712,2.60206,2.69897,2.77815,2.8451,2.90309,2.95424,3,3.30103,3.47712,3.60206,3.69897,3.77815,3.8451,3.90309,3.95424,4,4.30103,4.47712,4.60206,4.69897,4.77815,4.8451,4.90309,4.95424,5,5.30103,5.47712,5.60206,5.69897,5.77815,5.8451,5.90309,5.95424,6,6.30103,6.47712,6.60206,6.69897,6.77815,6.8451,6.90309,6.95424,7],
      "tickSize":{"condition":{"test":"abs(datum.value - round(datum.value)) < 0.001","value":8},"value":4},
      "tickColor":"#555555","tickWidth":1.2,"domainColor":"#555555","domainWidth":1.5}},
    "y":{"field":"count","type":"quantitative","scale":{"domain":[0,125],"range":[60.7,-64.3],"nice":false},"axis":{"title":null,"labels":false,"ticks":false,"domain":true,"domainColor":"#808080","domainWidth":1.5}},
    "fill":{"field":"series","type":"nominal","scale":{"domain":["DP-AD11","DP-AD9","DP-AD8","DP-AD7","DP-AD6","DP-AD3","DP-AD2","DP-AD1","LF2000-NPs","Free ASOs"],"range":["#1a1aa6","#f2f200","#1f9b9b","#a010c0","#c29a9a","#2f5f12","#44ee22","#ff9933","#14c8f5","#ff3333"]},
      "legend":{"title":null,"orient":"none","legendX":1055,"legendY":-62,"symbolType":"stroke","symbolSize":3600,"symbolStrokeWidth":4,"labelFontSize":32,"labelOffset":9,"rowPadding":23,"padding":0,"labelLimit":400}},
    "stroke":{"field":"series","type":"nominal","scale":{"domain":["DP-AD11","DP-AD9","DP-AD8","DP-AD7","DP-AD6","DP-AD3","DP-AD2","DP-AD1","LF2000-NPs","Free ASOs"],"range":["#1a1aa6","#f2f200","#1f9b9b","#a010c0","#c29a9a","#2f5f12","#44ee22","#ff9933","#14c8f5","#ff3333"]},
      "legend":{"title":null,"orient":"none","legendX":1055,"legendY":-62,"symbolType":"stroke","symbolSize":3600,"symbolStrokeWidth":4,"labelFontSize":32,"labelOffset":9,"rowPadding":23,"padding":0,"labelLimit":400}}
   }},
  {"transform":[{"filter":"datum.lx == 1"}],"mark":{"type":"rule","color":"#808080","strokeWidth":1.5},
   "encoding":{"x":{"datum":7,"type":"quantitative","axis":{"orient":"bottom","title":"Fluorescence Intensity","titleFontSize":31,"titlePadding":10,"values":[1,2,3,4,5,6,7],"labelExpr":"'10' + ['⁰','¹','²','³','⁴','⁵','⁶','⁷'][round(datum.value)]","labelFontSize":30,"labelPadding":12,"labelFlush":true,"labelOverlap":false,"tickSize":8,"tickOpacity":0,"domain":false}},"y":{"datum":0},"y2":{"datum":125}}},
  {"transform":[{"filter":"datum.lx == 1 && datum.series == 'DP-AD11'"}],"mark":{"type":"rule","color":"#808080","strokeWidth":1.5},"encoding":{"x":{"datum":1,"type":"quantitative","axis":null},"x2":{"datum":7},"y":{"datum":125}}},
  {"transform":[{"filter":"datum.lx == 1 && datum.series == 'DP-AD11'"}],"mark":{"type":"text","text":"a","fontSize":52,"align":"center","baseline":"alphabetic","color":"black"},"encoding":{"x":{"datum":1.257,"type":"quantitative","axis":null},"y":{"datum":66}}}
 ]}
},
{"data":{"name":"mrsa"},
 "title":{"text":"MRSA","fontSize":38,"frame":"group","offset":3,"dx":5},
 "facet":{"row":{"field":"series","type":"nominal","sort":["DP-AD11","DP-AD9","DP-AD8","DP-AD7","DP-AD6","DP-AD3","DP-AD2","DP-AD1","LF2000-NPs","Free ASOs"],"title":null,"header":{"labels":false,"title":null}}},
 "spacing":{"row":0},
 "bounds":"flush",
 "spec":{"width":500,"height":60.7,
  "resolve":{"axis":{"x":"independent"}},
  "layer":[
  {"mark":{"type":"area","fillOpacity":0.45,"strokeWidth":2,"strokeJoin":"round"},
   "encoding":{
    "x":{"field":"lx","type":"quantitative","scale":{"domain":[1,7],"nice":false,"zero":false},
      "axis":{"orient":"bottom","title":null,"labels":false,"values":[1,1.30103,1.47712,1.60206,1.69897,1.77815,1.8451,1.90309,1.95424,2,2.30103,2.47712,2.60206,2.69897,2.77815,2.8451,2.90309,2.95424,3,3.30103,3.47712,3.60206,3.69897,3.77815,3.8451,3.90309,3.95424,4,4.30103,4.47712,4.60206,4.69897,4.77815,4.8451,4.90309,4.95424,5,5.30103,5.47712,5.60206,5.69897,5.77815,5.8451,5.90309,5.95424,6,6.30103,6.47712,6.60206,6.69897,6.77815,6.8451,6.90309,6.95424,7],
      "tickSize":{"condition":{"test":"abs(datum.value - round(datum.value)) < 0.001","value":8},"value":4},
      "tickColor":"#555555","tickWidth":1.2,"domainColor":"#555555","domainWidth":1.5}},
    "y":{"field":"count","type":"quantitative","scale":{"domain":[0,128],"range":[60.7,-67.3],"nice":false},"axis":{"title":null,"labels":false,"ticks":false,"domain":true,"domainColor":"#808080","domainWidth":1.5}},
    "fill":{"field":"series","type":"nominal","scale":{"domain":["DP-AD11","DP-AD9","DP-AD8","DP-AD7","DP-AD6","DP-AD3","DP-AD2","DP-AD1","LF2000-NPs","Free ASOs"],"range":["#1a1aa6","#f2f200","#1f9b9b","#a010c0","#c29a9a","#2f5f12","#44ee22","#ff9933","#14c8f5","#ff3333"]},
      "legend":{"title":null,"orient":"none","legendX":1055,"legendY":-62,"symbolType":"stroke","symbolSize":3600,"symbolStrokeWidth":4,"labelFontSize":32,"labelOffset":9,"rowPadding":23,"padding":0,"labelLimit":400}},
    "stroke":{"field":"series","type":"nominal","scale":{"domain":["DP-AD11","DP-AD9","DP-AD8","DP-AD7","DP-AD6","DP-AD3","DP-AD2","DP-AD1","LF2000-NPs","Free ASOs"],"range":["#1a1aa6","#f2f200","#1f9b9b","#a010c0","#c29a9a","#2f5f12","#44ee22","#ff9933","#14c8f5","#ff3333"]},
      "legend":{"title":null,"orient":"none","legendX":1055,"legendY":-62,"symbolType":"stroke","symbolSize":3600,"symbolStrokeWidth":4,"labelFontSize":32,"labelOffset":9,"rowPadding":23,"padding":0,"labelLimit":400}}
   }},
  {"transform":[{"filter":"datum.lx == 1"}],"mark":{"type":"rule","color":"#808080","strokeWidth":1.5},
   "encoding":{"x":{"datum":7,"type":"quantitative","axis":{"orient":"bottom","title":"Fluorescence Intensity","titleFontSize":31,"titlePadding":10,"values":[1,2,3,4,5,6,7],"labelExpr":"'10' + ['⁰','¹','²','³','⁴','⁵','⁶','⁷'][round(datum.value)]","labelFontSize":30,"labelPadding":12,"labelFlush":true,"labelOverlap":false,"tickSize":8,"tickOpacity":0,"domain":false}},"y":{"datum":0},"y2":{"datum":128}}},
  {"transform":[{"filter":"datum.lx == 1 && datum.series == 'DP-AD11'"}],"mark":{"type":"rule","color":"#808080","strokeWidth":1.5},"encoding":{"x":{"datum":1,"type":"quantitative","axis":null},"x2":{"datum":7},"y":{"datum":128}}}
 ]}
}
],"spacing":41},
{"hconcat":[
{"data":{"name":"flowb"},
 "title":{"text":"E. coli DH5α (anti-egfp)","fontSize":31,"frame":"group","offset":-14,"dx":55},
 "facet":{"row":{"field":"series","type":"nominal","sort":["DP-AD8","DP-AD7","DP-AD3","DP-AD2","Free ASOs","Control"],"title":null,"header":{"labels":false,"title":null}}},
 "spacing":{"row":0},
 "bounds":"flush",
 "spec":{"width":520,"height":68.5,
  "resolve":{"axis":{"x":"independent"}},
  "layer":[
  {"mark":{"type":"area","fillOpacity":0.28,"strokeWidth":1.6,"strokeJoin":"round"},
   "encoding":{
    "x":{"field":"lx","type":"quantitative","scale":{"domain":[1,5],"nice":false,"zero":false},
      "axis":{"orient":"bottom","title":null,"labels":false,"values":[1,1.30103,1.47712,1.60206,1.69897,1.77815,1.8451,1.90309,1.95424,2,2.30103,2.47712,2.60206,2.69897,2.77815,2.8451,2.90309,2.95424,3,3.30103,3.47712,3.60206,3.69897,3.77815,3.8451,3.90309,3.95424,4,4.30103,4.47712,4.60206,4.69897,4.77815,4.8451,4.90309,4.95424,5],
      "tickSize":{"condition":{"test":"abs(datum.value - round(datum.value)) < 0.001","value":12},"value":6},
      "tickColor":"black","tickWidth":2,"domainColor":"black","domainWidth":2}},
    "y":{"field":"count","type":"quantitative","scale":{"domain":[0,146],"range":[68.5,-77.5],"nice":false},"axis":{"title":null,"labels":false,"ticks":false,"domain":true,"domainColor":"black","domainWidth":2}},
    "fill":{"field":"series","type":"nominal","scale":{"domain":["DP-AD8","DP-AD7","DP-AD3","DP-AD2","Free ASOs","Control"],"range":["#ff2a2a","#2020e0","#c49292","#44e01a","#e020e0","#10c0f0"]},"legend":null},
    "stroke":{"field":"series","type":"nominal","scale":{"domain":["DP-AD8","DP-AD7","DP-AD3","DP-AD2","Free ASOs","Control"],"range":["#ff2a2a","#2020e0","#c49292","#44e01a","#e020e0","#10c0f0"]},"legend":null}
   }},
  {"transform":[{"filter":"datum.lx == 1 || (datum.series == 'Control' && datum.lx == 3.45)"}],"mark":{"type":"text","fontSize":37,"align":"left","baseline":"middle","color":"black"},
   "encoding":{"text":{"field":"series","type":"nominal"},"x":{"datum":4.385,"type":"quantitative","axis":{"orient":"bottom","title":"Fluorescence Intensity","titleFontSize":38,"titlePadding":4,"values":[1,2,3,4,5],"labelExpr":"'10' + ['⁰','¹','²','³','⁴','⁵','⁶','⁷'][round(datum.value)]","labelFontSize":27,"labelFontWeight":"bold","labelPadding":20,"labelFlush":true,"labelOverlap":false,"tickSize":12,"tickOpacity":0,"domain":false}},"y":{"datum":28}}},
  {"transform":[{"filter":"datum.lx == 1 && datum.series == 'DP-AD8'"}],"mark":{"type":"text","text":"b","fontSize":52,"align":"center","baseline":"alphabetic","color":"black"},"encoding":{"x":{"datum":1.17,"type":"quantitative","axis":null},"y":{"datum":95}}}
 ]}
},
{"data":{"name":"growth"},
 "width":517,"height":426,
 "title":{"text":"E. coli (anti-acpP)","fontSize":31,"frame":"group","offset":-14,"dx":18},
 "encoding":{
  "x":{"field":"time","type":"quantitative","scale":{"domain":[0,20],"nice":false},"axis":{"values":[0,5,10,15,20],"title":"Time (h)","titleFontSize":36,"labelFontSize":32,"labelFlush":false,"domainWidth":3,"domainColor":"black","tickWidth":3,"tickColor":"black","tickSize":10,"labelPadding":6,"titlePadding":10}},
  "y":{"field":"od","type":"quantitative","scale":{"domain":[0,0.741],"nice":false},"axis":{"values":[0,0.2,0.4,0.6],"labelExpr":"datum.value == 0 ? '0' : format(datum.value, '.1f')","title":"Turbidity (OD₆₀₀ₙₘ)","titleFontSize":34,"labelFontSize":32,"labelFlush":false,"domain":false,"tickWidth":3,"tickColor":"black","tickSize":10,"labelPadding":6,"titlePadding":10}}
 },
 "layer":[
  {"transform":[{"filter":"false"}],"mark":{"type":"point","filled":true,"opacity":1,"size":1156},
   "encoding":{
    "shape":{"field":"series","type":"nominal","scale":{"domain":["Control","Free ASOs","DP-AD2","DP-AD3","DP-AD7","DP-AD8","mis-DP-AD7"],"range":["M-1,-0.07H1V0.07H-1ZM0.27,0A0.27,0.27,0,1,1,-0.27,0A0.27,0.27,0,1,1,0.27,0Z","M-1,-0.07H1V0.07H-1ZM-0.26,-0.26H0.26V0.26H-0.26Z","M-1,-0.07H1V0.07H-1ZM0,-0.32L0.3,0.22H-0.3Z","M-1,-0.07H1V0.07H-1ZM-0.3,-0.3H0.3V0.3H-0.3Z","M-1,-0.07H1V0.07H-1ZM0.22,0A0.22,0.22,0,1,1,-0.22,0A0.22,0.22,0,1,1,0.22,0Z","M-1,-0.07H1V0.07H-1ZM0.27,0A0.27,0.27,0,1,1,-0.27,0A0.27,0.27,0,1,1,0.27,0Z","M-1,-0.07H1V0.07H-1ZM-0.05,-0.28H0.05V0.28H-0.05Z"]},
      "legend":{"title":null,"orient":"none","legendX":34,"legendY":-44,"columns":2,"symbolSize":1156,"symbolStrokeWidth":0,"symbolOpacity":1,"labelFontSize":30,"labelOffset":10,"rowPadding":15,"columnPadding":98,"padding":0,"labelLimit":400}},
    "color":{"field":"series","type":"nominal","scale":{"domain":["Control","Free ASOs","DP-AD2","DP-AD3","DP-AD7","DP-AD8","mis-DP-AD7"],"range":["#1c1cff","#ff1f1f","#1fbf1f","#a01fe0","#ff8c1a","#000000","#a27635"]},
      "legend":{"title":null,"orient":"none","legendX":34,"legendY":-44,"columns":2,"symbolSize":1156,"symbolStrokeWidth":0,"symbolOpacity":1,"labelFontSize":30,"labelOffset":10,"rowPadding":15,"columnPadding":98,"padding":0,"labelLimit":400}}
   }},
  {"transform":[{"filter":"datum.series == 'Control' && datum.time == 0"}],"mark":{"type":"rule","color":"black","strokeWidth":3},"encoding":{"x":{"datum":0},"y":{"datum":0},"y2":{"datum":0.6}}},
  {"mark":{"type":"line","strokeWidth":2.5},"encoding":{"color":{"field":"series","type":"nominal","scale":{"domain":["Control","Free ASOs","DP-AD2","DP-AD3","DP-AD7","DP-AD8","mis-DP-AD7"],"range":["#1c1cff","#ff1f1f","#1fbf1f","#a01fe0","#ff8c1a","#000000","#a27635"]},"legend":null}}},
  {"transform":[{"filter":"indexof(['Control','Free ASOs','DP-AD2','DP-AD3'], datum.series) >= 0"}],"mark":{"type":"rule","strokeWidth":2.5},"encoding":{"y":{"field":"lo","type":"quantitative"},"y2":{"field":"hi"},"color":{"field":"series","type":"nominal","scale":{"domain":["Control","Free ASOs","DP-AD2","DP-AD3","DP-AD7","DP-AD8","mis-DP-AD7"],"range":["#1c1cff","#ff1f1f","#1fbf1f","#a01fe0","#ff8c1a","#000000","#a27635"]},"legend":null}}},
  {"transform":[{"filter":"indexof(['Control','Free ASOs','DP-AD2','DP-AD3'], datum.series) >= 0"}],"mark":{"type":"tick","orient":"horizontal","size":12,"thickness":2.5},"encoding":{"y":{"field":"lo","type":"quantitative"},"color":{"field":"series","type":"nominal","scale":{"domain":["Control","Free ASOs","DP-AD2","DP-AD3","DP-AD7","DP-AD8","mis-DP-AD7"],"range":["#1c1cff","#ff1f1f","#1fbf1f","#a01fe0","#ff8c1a","#000000","#a27635"]},"legend":null}}},
  {"transform":[{"filter":"indexof(['Control','Free ASOs','DP-AD2','DP-AD3'], datum.series) >= 0"}],"mark":{"type":"tick","orient":"horizontal","size":12,"thickness":2.5},"encoding":{"y":{"field":"hi","type":"quantitative"},"color":{"field":"series","type":"nominal","scale":{"domain":["Control","Free ASOs","DP-AD2","DP-AD3","DP-AD7","DP-AD8","mis-DP-AD7"],"range":["#1c1cff","#ff1f1f","#1fbf1f","#a01fe0","#ff8c1a","#000000","#a27635"]},"legend":null}}},
  {"transform":[{"filter":"datum.series == 'DP-AD8'"}],"mark":{"type":"point","filled":true,"opacity":1,"shape":"circle","size":75},"encoding":{"color":{"field":"series","type":"nominal","scale":{"domain":["Control","Free ASOs","DP-AD2","DP-AD3","DP-AD7","DP-AD8","mis-DP-AD7"],"range":["#1c1cff","#ff1f1f","#1fbf1f","#a01fe0","#ff8c1a","#000000","#a27635"]},"legend":null}}},
  {"transform":[{"filter":"datum.series == 'DP-AD7'"}],"mark":{"type":"point","filled":true,"opacity":1,"shape":"circle","size":50},"encoding":{"color":{"field":"series","type":"nominal","scale":{"domain":["Control","Free ASOs","DP-AD2","DP-AD3","DP-AD7","DP-AD8","mis-DP-AD7"],"range":["#1c1cff","#ff1f1f","#1fbf1f","#a01fe0","#ff8c1a","#000000","#a27635"]},"legend":null}}},
  {"transform":[{"filter":"datum.series == 'mis-DP-AD7'"}],"mark":{"type":"point","filled":true,"opacity":1,"shape":"cross","size":30},"encoding":{"color":{"field":"series","type":"nominal","scale":{"domain":["Control","Free ASOs","DP-AD2","DP-AD3","DP-AD7","DP-AD8","mis-DP-AD7"],"range":["#1c1cff","#ff1f1f","#1fbf1f","#a01fe0","#ff8c1a","#000000","#a27635"]},"legend":null}}},
  {"transform":[{"filter":"datum.series == 'DP-AD2'"}],"mark":{"type":"point","filled":true,"opacity":1,"shape":"triangle-up","size":80},"encoding":{"color":{"field":"series","type":"nominal","scale":{"domain":["Control","Free ASOs","DP-AD2","DP-AD3","DP-AD7","DP-AD8","mis-DP-AD7"],"range":["#1c1cff","#ff1f1f","#1fbf1f","#a01fe0","#ff8c1a","#000000","#a27635"]},"legend":null}}},
  {"transform":[{"filter":"datum.series == 'DP-AD3'"}],"mark":{"type":"point","filled":true,"opacity":1,"shape":"square","size":120},"encoding":{"color":{"field":"series","type":"nominal","scale":{"domain":["Control","Free ASOs","DP-AD2","DP-AD3","DP-AD7","DP-AD8","mis-DP-AD7"],"range":["#1c1cff","#ff1f1f","#1fbf1f","#a01fe0","#ff8c1a","#000000","#a27635"]},"legend":null}}},
  {"transform":[{"filter":"datum.series == 'Free ASOs'"}],"mark":{"type":"point","filled":true,"opacity":1,"shape":"square","size":65},"encoding":{"color":{"field":"series","type":"nominal","scale":{"domain":["Control","Free ASOs","DP-AD2","DP-AD3","DP-AD7","DP-AD8","mis-DP-AD7"],"range":["#1c1cff","#ff1f1f","#1fbf1f","#a01fe0","#ff8c1a","#000000","#a27635"]},"legend":null}}},
  {"transform":[{"filter":"datum.series == 'Control'"}],"mark":{"type":"point","filled":true,"opacity":1,"shape":"circle","size":75},"encoding":{"color":{"field":"series","type":"nominal","scale":{"domain":["Control","Free ASOs","DP-AD2","DP-AD3","DP-AD7","DP-AD8","mis-DP-AD7"],"range":["#1c1cff","#ff1f1f","#1fbf1f","#a01fe0","#ff8c1a","#000000","#a27635"]},"legend":null}}},
  {"transform":[{"filter":"datum.series == 'Control' && datum.time == 0"}],"mark":{"type":"text","text":"c","fontSize":52,"align":"center","baseline":"alphabetic","color":"black"},"encoding":{"x":{"datum":-2.24},"y":{"datum":0.791}}}
 ]
}
],"spacing":40,
"resolve":{"scale":{"color":"independent","shape":"independent","fill":"independent","stroke":"independent"}}}
],
"spacing":72,
"resolve":{"scale":{"fill":"independent","stroke":"independent","color":"independent","shape":"independent"}}
}
